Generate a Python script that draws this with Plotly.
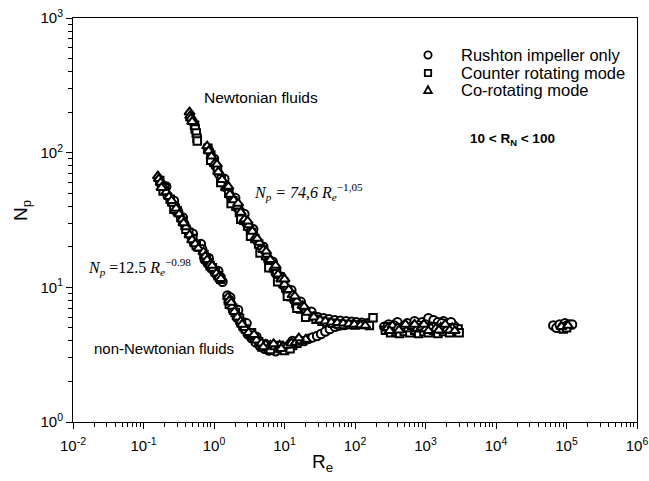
import plotly.graph_objects as go

# Power number vs. Reynolds number, three impeller configurations
# (Newtonian branch, non-Newtonian branch, turbulent plateau)

re_rushton = [
    0.50, 0.85, 0.95, 1.05, 1.18, 1.35, 1.5, 1.7, 1.9, 2.2, 2.5, 2.8, 3.2, 3.6, 4.0, 4.6,
    5.2, 5.9, 6.6, 7.5, 8.4, 9.4, 10.5, 12, 13.8, 16, 18.5, 21, 25, 30, 36, 43, 52, 62,
    75, 90, 105, 125, 150, 300, 400, 550, 700, 900, 1100, 1300, 1500, 1800, 2100, 2500,
    1.0, 1.4, 2.0, 2.7, 3.6, 5.0, 6.8, 9.0, 12.5, 17, 24,
    260, 330, 360, 480, 620, 800, 1000, 1200, 1400, 1700, 2000, 2300, 2700,
    65000, 72000, 80000, 88000, 95000, 102000, 110000, 120000,
    0.18, 0.2, 0.22, 0.25, 0.28, 0.31, 0.34, 0.38, 0.42, 0.47, 0.52, 0.58, 0.65, 0.68,
    0.74, 0.82, 0.9, 1.0, 1.1, 1.22, 1.32,
    1.55, 1.62, 1.75, 1.9, 2.1, 2.35, 2.6, 3.0, 3.4, 3.9, 4.5, 5.2, 6.0, 7.0, 8.0, 9.0,
    10.5, 12, 14, 16.5, 19, 22, 25, 29, 33, 38, 44, 52, 60, 70,
    0.21, 0.27, 0.36, 0.5, 0.84, 1.15, 1.7, 2.2, 2.9, 4.0, 5.5, 7.5, 10, 13,
]
np_rushton = [
    170, 104, 90, 80, 69, 60, 55, 48, 43, 38.5, 34, 30.5, 27.5, 24.5, 22.5, 20,
    17.8, 15.8, 14.2, 12.8, 11.5, 10.5, 9.6, 8.8, 8.0, 7.4, 6.9, 6.5, 6.2, 6.0, 5.9, 5.8, 5.7, 5.65,
    5.6, 5.55, 5.5, 5.45, 5.4, 5.3, 5.5, 5.4, 5.6, 5.5, 5.9, 5.7, 5.5, 5.6, 5.3, 5.2,
    90, 64, 46, 35, 27, 20, 15.5, 12, 9.5, 7.8, 6.6,
    5.1, 5.0, 5.2, 5.1, 5.0, 5.2, 5.3, 5.1, 5.0, 5.4, 5.1, 5.5, 5.0,
    5.2, 5.0, 5.3, 5.1, 5.4, 5.2, 5.3, 5.3,
    58, 53, 48, 43, 40, 36.5, 33, 29.5, 26.5, 24, 21.5, 20, 21, 19.2,
    16.0, 15.0, 14.0, 13.2, 12.3, 11.7, 11.0,
    8.7, 8.2, 7.5, 6.8, 6.1, 5.5, 5.0, 4.5, 4.2, 3.9, 3.65, 3.5, 3.4, 3.45, 3.5, 3.6,
    3.45, 3.7, 3.8, 3.95, 4.0, 4.15, 4.25, 4.35, 4.5, 4.7, 4.9, 5.1, 5.2, 5.25,
    56, 44, 33, 25, 16.5, 13.2, 8.4, 6.8, 5.4, 4.3, 3.75, 3.35, 3.55, 4.0,
]

re_counter = [
    0.53, 0.54, 0.56, 0.575, 0.58,
    0.82, 0.9, 1.0, 1.12, 1.27, 1.45, 1.62, 1.85, 2.05, 2.3, 2.65, 3.0, 3.4, 3.8, 4.3,
    4.8, 5.4, 6.1, 6.9, 7.7, 8.6, 9.7, 11, 12.5, 14.5, 17, 20, 24, 28, 34, 40, 48, 58,
    70, 85, 100, 130, 160, 180,
    0.9, 1.25, 1.75, 2.4, 3.3, 4.5, 6.0, 8.0, 11, 15, 20,
    270, 320, 380, 430, 500, 600, 700, 800, 950, 1100, 1300, 1500, 1800, 2200, 2800, 2900,
    290, 350, 460, 560, 750, 1000, 1250, 1650, 2000, 2500, 3000,
    90000, 100000,
    0.17, 0.2, 0.24, 0.3, 0.36, 0.44, 0.5, 0.56,
    0.72, 0.78, 0.85, 0.95, 1.05, 1.15, 1.25,
    1.6, 1.7, 1.85, 2.0, 2.2, 2.45, 2.8, 3.2, 3.7, 4.3, 5.0, 5.8, 6.7, 7.8, 9.0, 10,
    11.5, 13, 15,
    0.19, 0.27, 0.4, 0.88, 1.2, 1.65, 2.3, 3.4, 4.8, 6.3, 8.5, 12,
]
np_counter = [
    160, 150, 140, 128, 122,
    108, 96, 85, 75, 64, 56, 50, 44, 40, 36, 31.5, 28.5, 25.5, 23, 21,
    19, 17.2, 15.5, 14, 12.9, 12.0, 11.0, 9.6, 8.5, 7.6, 6.9, 6.4, 6.1, 5.8, 5.6, 5.5, 5.4, 5.35,
    5.3, 5.3, 5.25, 5.3, 5.2, 5.95,
    88, 60, 42, 32, 24, 18, 14, 11, 8.6, 7.0, 6.0,
    4.8, 4.6, 4.7, 4.55, 4.7, 4.6, 4.8, 4.55, 4.7, 4.6, 4.8, 4.55, 4.7, 4.6, 4.7, 4.9,
    5.1, 5.0, 5.0, 5.1, 5.0, 5.05, 5.1, 4.9, 4.9, 5.0, 4.6,
    4.9, 5.0,
    62, 55, 45, 37, 31, 25.5, 23, 20.5,
    17.5, 16.2, 15.2, 14.0, 13.0, 12.2, 11.5,
    8.0, 7.7, 7.0, 6.5, 6.0, 5.5, 4.9, 4.5, 4.2, 3.95, 3.8, 3.7, 3.6, 3.55, 3.5, 3.4,
    3.6, 3.7, 3.85,
    52, 38, 27, 14.5, 11.8, 7.5, 5.9, 4.6, 3.6, 3.45, 3.7, 3.5,
]

re_corot = [
    0.45, 0.46, 0.47, 0.49,
    0.8, 0.84, 0.92, 1.02, 1.15, 1.3, 1.48, 1.68, 1.9, 2.15, 2.4, 2.7, 3.1, 3.5, 3.9, 4.4,
    5.0, 5.6, 6.3, 7.2, 8.1, 9.0, 10, 11.5, 13, 15, 18, 21, 26, 32, 38, 46, 56, 68, 82,
    98, 120, 140,
    1.1, 1.6, 2.2, 3.0, 4.1, 5.5, 7.5, 10, 14, 19,
    290, 340, 400, 470, 560, 650, 760, 880, 1000, 1200, 1400, 1650, 2000, 2400,
    310, 420, 520, 700, 950, 1100, 1550, 1900, 2200, 2600,
    85000, 105000,
    0.16, 0.165, 0.175, 0.19, 0.21, 0.23, 0.26, 0.29, 0.32, 0.35, 0.4, 0.45, 0.49, 0.54, 0.6,
    0.71, 0.75, 0.8, 0.88, 0.97, 1.08, 1.18,
    1.58, 1.65, 1.8, 1.95, 2.15, 2.4, 2.7, 3.1, 3.5, 4.0, 4.7, 5.4, 6.3, 7.3, 8.5, 9.5,
    11, 12.5, 14.5, 17, 20,
    0.18, 0.25, 0.37, 0.94, 1.25, 1.75, 2.5, 3.7, 5.0, 7.0, 9.0, 16,
]
np_corot = [
    200, 188, 180, 170,
    112, 103, 94, 83, 72, 63, 55, 49, 44.5, 40, 36, 32, 29, 26, 23.5, 21.5,
    19, 17.5, 16, 14, 12.5, 11.5, 10.5, 9.6, 8.8, 7.9, 7.3, 6.5, 6.0, 5.7, 5.6, 5.5, 5.45, 5.4, 5.35,
    5.3, 5.25, 5.2,
    82, 56, 42, 31, 23, 18.5, 14.5, 11.5, 8.6, 7.2,
    5.0, 5.2, 5.0, 5.1, 4.9, 5.1, 4.95, 5.05, 4.9, 5.0, 4.95, 5.05, 4.9, 5.0,
    4.75, 4.8, 5.3, 5.3, 5.3, 4.75, 4.8, 5.3, 4.8, 4.75,
    5.1, 5.2,
    67, 64, 60, 56, 51, 47, 42, 38.5, 35, 32, 28, 24.5, 22.5, 21, 19.5,
    18.3, 17, 16, 14.8, 13.8, 12.7, 12.0,
    8.5, 8.0, 7.2, 6.6, 6.0, 5.6, 5.0, 4.6, 4.3, 4.05, 3.85, 3.75, 3.7, 3.6, 3.7, 3.65,
    3.7, 3.85, 3.9, 4.0, 4.1,
    55, 44, 30, 14.5, 11.6, 7.7, 5.3, 4.45, 3.6, 3.8, 3.5, 4.2,
]

x_tick_vals = [1e-2, 1e-1, 1e0, 1e1, 1e2, 1e3, 1e4, 1e5, 1e6]
x_tick_text = ["10<sup>-2</sup>", "10<sup>-1</sup>", "10<sup>0</sup>", "10<sup>1</sup>",
               "10<sup>2</sup>", "10<sup>3</sup>", "10<sup>4</sup>", "10<sup>5</sup>",
               "10<sup>6</sup>"]
y_tick_vals = [1e0, 1e1, 1e2, 1e3]
y_tick_text = ["10<sup>0</sup>", "10<sup>1</sup>", "10<sup>2</sup>", "10<sup>3</sup>"]

SANS = "Liberation Sans, Arial, sans-serif"
SERIF = "Liberation Serif, Times New Roman, serif"

series = [
    ("Rushton impeller only", re_rushton, np_rushton, "circle", 8.5),
    ("Counter rotating mode", re_counter, np_counter, "square", 7.5),
    ("Co-rotating mode", re_corot, np_corot, "triangle-up", 9),
]

fig = go.Figure()
for name, xs, ys, sym, size in series:
    fig.add_trace(go.Scatter(
        x=xs, y=ys, mode="markers", name=name, showlegend=False,
        marker=dict(symbol=sym, size=size, color="white",
                    line=dict(color="black", width=2)),
    ))

def minor_vals(lo, hi):
    return [k * 10.0 ** e for e in range(lo, hi) for k in range(2, 10)]

axis_common = dict(
    type="log", showline=True, linecolor="black", linewidth=1, mirror=True,
    showgrid=False, zeroline=False, ticks="outside", ticklen=6, tickwidth=1,
    tickcolor="black", tickmode="array", automargin=False,
    tickfont=dict(family=SANS, size=15, color="black"),
)

# plot area in page pixels
L, R, T, B = 73, 637, 18, 422

fig.update_layout(
    width=649, height=481,
    margin=dict(l=L, r=649 - R, t=T, b=481 - B),
    paper_bgcolor="white", plot_bgcolor="white",
    showlegend=False,
    xaxis=dict(axis_common, range=[-2, 6], tickvals=x_tick_vals, ticktext=x_tick_text,
               ticklabelstandoff=4,
               minor=dict(ticks="outside", ticklen=4, tickcolor="black",
                          tickmode="array", tickvals=minor_vals(-2, 6))),
    yaxis=dict(axis_common, range=[0, 3], tickvals=y_tick_vals, ticktext=y_tick_text,
               minor=dict(ticks="outside", ticklen=4, tickcolor="black",
                          tickmode="array", tickvals=minor_vals(0, 3))),
)

def px_x(px):
    return (px - L) / float(R - L)

def px_y(py):
    return (B - py) / float(B - T)

def add_text(text, px, py, fam, size, anchor="center", angle=0):
    fig.add_annotation(x=px_x(px), y=px_y(py), xref="paper", yref="paper", text=text,
                       showarrow=False, xanchor=anchor, yanchor="middle", textangle=angle,
                       font=dict(family=fam, size=size, color="black"))

# axis titles
add_text("N<sub>p</sub>", 22, 211, SANS, 19, angle=-90)
add_text("R<sub>e</sub>", 322, 463, SANS, 19)

# curve labels and correlations
add_text("Newtonian fluids", 261, 98, SANS, 15.5)
add_text("non-Newtonian fluids", 164, 348, SANS, 15)
add_text("<b>10 < R<sub>N</sub> < 100</b>", 512, 139, SANS, 13.5)
add_text("<i>N<sub>p</sub> = 74,6 R<sub>e</sub></i><sup>−1,05</sup>", 308, 192, SERIF, 16)
add_text("<i>N<sub>p</sub></i> =12.5 <i>R<sub>e</sub></i><sup>−0.98</sup>", 139, 267, SERIF, 16)

# key: symbol + label rows
key_x = 428
key_rows = [55, 73, 90]
r = 3.6
for (name, _, _, sym, _), ky in zip(series, key_rows):
    if sym == "circle":
        fig.add_shape(type="circle", xref="paper", yref="paper",
                      x0=px_x(key_x - r), x1=px_x(key_x + r),
                      y0=px_y(ky + r), y1=px_y(ky - r),
                      line=dict(color="black", width=1.8), fillcolor="white")
    elif sym == "square":
        s = 3.2
        fig.add_shape(type="rect", xref="paper", yref="paper",
                      x0=px_x(key_x - s), x1=px_x(key_x + s),
                      y0=px_y(ky + s), y1=px_y(ky - s),
                      line=dict(color="black", width=1.8), fillcolor="white")
    else:
        h = 3.8
        path = "M {:.5f},{:.5f} L {:.5f},{:.5f} L {:.5f},{:.5f} Z".format(
            px_x(key_x - h), px_y(ky + h * 0.8),
            px_x(key_x + h), px_y(ky + h * 0.8),
            px_x(key_x), px_y(ky - h))
        fig.add_shape(type="path", xref="paper", yref="paper", path=path,
                      line=dict(color="black", width=1.8), fillcolor="white")
    add_text(name, 459, ky, SANS, 16.5, anchor="left")

fig.write_html("out.html")
